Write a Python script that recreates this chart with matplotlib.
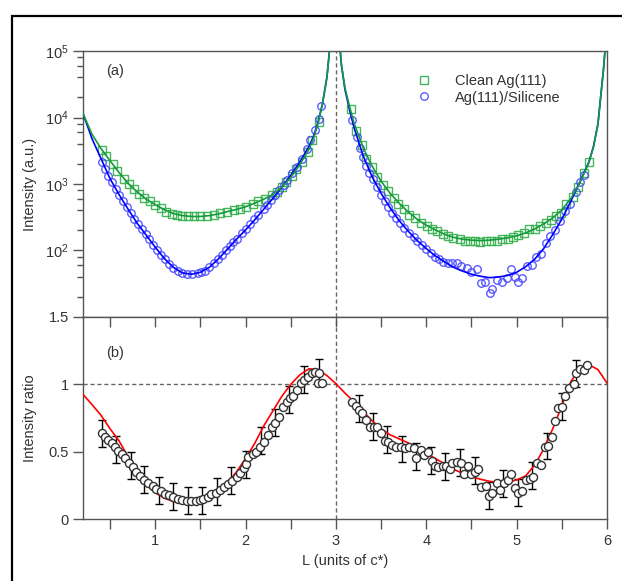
import numpy as np
import matplotlib
matplotlib.use('Agg')
import matplotlib.pyplot as plt
from matplotlib.ticker import LogLocator, NullFormatter, MultipleLocator, FixedLocator
from matplotlib.patches import Rectangle

plt.rcParams['font.family'] = ['Liberation Sans', 'DejaVu Sans']
plt.rcParams['mathtext.fontset'] = 'custom'
plt.rcParams['mathtext.rm'] = 'Liberation Sans'
plt.rcParams['font.size'] = 10.5

# ---- (a) specular CTR intensities ----
# clean Ag(111), squares
clean_L = [0.41, 0.46, 0.53, 0.58, 0.65, 0.71, 0.77, 0.82, 0.88, 0.94, 1.00, 1.06, 1.12, 1.18,
           1.24, 1.30, 1.36, 1.43, 1.50, 1.57, 1.645, 1.72, 1.79, 1.87, 1.94, 2.01, 2.08, 2.14,
           2.22, 2.29, 2.35, 2.40, 2.45, 2.51, 2.56, 2.62, 2.69, 2.74, 2.81,
           3.165, 3.22, 3.29, 3.33, 3.40, 3.45, 3.52, 3.58, 3.64, 3.69, 3.75, 3.81, 3.875, 3.94,
           4.005, 4.06, 4.12, 4.18, 4.245, 4.30, 4.37, 4.43, 4.485, 4.54, 4.595, 4.66, 4.72, 4.78,
           4.84, 4.90, 4.96, 5.02, 5.08, 5.14, 5.20, 5.26, 5.32, 5.38, 5.44, 5.49, 5.55, 5.62,
           5.68, 5.745, 5.80]
clean_I = [3300, 2660, 2000, 1550, 1200, 1000, 850, 710, 620, 550, 490, 430, 380, 355,
           340, 330, 325, 325, 327, 330, 340, 365, 380, 405, 425, 455, 500, 550,
           600, 675, 760, 910, 1070, 1320, 1700, 2140, 3000, 4570, 8500,
           13650, 6310, 3800, 2400, 1780, 1260, 977, 776, 617, 501, 427, 347, 309, 263,
           234, 209, 195, 178, 166, 155, 148, 141, 141, 141, 132, 141, 141, 141,
           148, 148, 158, 170, 186, 209, 214, 234, 263, 288, 331, 363, 501, 631,
           912, 1450, 2140]

# Ag(111)/silicene, circles
sil_L = [0.414, 0.447, 0.48, 0.524, 0.565, 0.60, 0.646, 0.683, 0.727, 0.768, 0.805, 0.85, 0.893,
         0.934, 0.975, 1.019, 1.063, 1.107, 1.15, 1.20, 1.247, 1.30, 1.357, 1.41, 1.47, 1.51,
         1.553, 1.60, 1.645, 1.69, 1.74, 1.785, 1.83, 1.866, 1.91, 1.96, 2.007, 2.05, 2.095,
         2.14, 2.20, 2.236, 2.28, 2.33, 2.375, 2.42, 2.46, 2.51, 2.57, 2.62, 2.68, 2.71, 2.77,
         2.81, 2.84,
         3.18, 3.23, 3.27, 3.30, 3.33, 3.37, 3.41, 3.45, 3.50, 3.54, 3.58, 3.62, 3.67, 3.71,
         3.755, 3.81, 3.86, 3.90, 3.95, 4.00, 4.05, 4.10, 4.145, 4.19, 4.245, 4.29, 4.34, 4.39,
         4.45, 4.50, 4.56, 4.61, 4.65, 4.70, 4.73, 4.78, 4.835, 4.89, 4.94, 4.98, 5.02, 5.06,
         5.11, 5.17, 5.22, 5.27, 5.32, 5.375, 5.42, 5.48, 5.54, 5.59, 5.66, 5.70, 5.745]
sil_I = [2160, 1660, 1320, 1060, 850, 690, 550, 447, 363, 302, 251, 209, 178,
         148, 123, 102, 87, 74, 63, 55, 49, 45.7, 44.4, 44, 45.7, 47.9,
         50, 56, 65, 74, 85, 100, 115, 132, 151, 182, 209, 251, 295,
         339, 417, 479, 575, 676, 813, 955, 1150, 1450, 1820, 2400, 3390, 4570, 6460,
         9550, 14800,
         9330, 5130, 3470, 2510, 1860, 1450, 1175, 891, 692, 550, 447, 372, 309, 257,
         219, 186, 158, 138, 123, 107, 93, 79, 74, 68, 65, 65, 65, 58,
         54, 48, 52, 33, 34, 23, 26, 36, 34, 38, 52, 40, 34, 38,
         58, 60, 81, 89, 129, 166, 204, 282, 398, 501, 759, 1070, 1350]

# fitted curves, below and above the Bragg peak at L = 3
fitA_L = [0.2, 0.3, 0.4, 0.5, 0.6, 0.7, 0.8, 0.9, 1.0, 1.1, 1.2, 1.3, 1.4, 1.5, 1.6, 1.7, 1.8,
          1.9, 2.0, 2.1, 2.2, 2.3, 2.4, 2.5, 2.6, 2.7, 2.75, 2.8, 2.85, 2.9, 2.95]
clean_fitA = [11500, 5600, 3400, 2240, 1480, 1020, 760, 590, 490, 410, 360, 335, 325, 325, 335,
              355, 385, 415, 455, 515, 590, 690, 890, 1260, 1950, 3300, 4800, 7900, 15800,
              40000, 200000]
sil_fitA = [11500, 4800, 2400, 1200, 690, 417, 257, 170, 112, 76, 56, 46, 44, 47, 56, 75, 105,
            148, 204, 288, 417, 603, 891, 1350, 2140, 3630, 5130, 8300, 15800, 40000, 200000]
fitB_L = [3.03, 3.06, 3.1, 3.15, 3.2, 3.3, 3.4, 3.5, 3.6, 3.7, 3.8, 3.9, 4.0, 4.1, 4.2, 4.3,
          4.4, 4.5, 4.6, 4.7, 4.8, 4.9, 5.0, 5.1, 5.2, 5.3, 5.4, 5.5, 5.6, 5.7, 5.8, 5.85, 5.9,
          5.93, 5.96, 5.99]
clean_fitB = [200000, 63000, 28000, 14800, 8300, 3550, 1860, 1100, 725, 513, 380, 295, 240, 204,
              176, 158, 148, 143, 141, 143, 148, 155, 166, 184, 211, 251, 309, 407, 603, 1050,
              2090, 3550, 7940, 20000, 50000, 158000]
sil_fitB = [200000, 63000, 26300, 13200, 7080, 2690, 1290, 724, 437, 282, 195, 141, 107, 83,
            68, 56, 49, 44, 41, 39, 40, 42, 47, 57, 74, 107, 174, 295, 550, 1070, 2140, 3630,
            7940, 20000, 50000, 158000]

# ---- (b) intensity ratio ----
ratio_L = [0.41, 0.44, 0.48, 0.52, 0.55, 0.59, 0.63, 0.66, 0.71, 0.75, 0.79, 0.83, 0.88, 0.92,
           0.97, 1.01, 1.06, 1.11, 1.15, 1.20, 1.25, 1.30, 1.35, 1.40, 1.45, 1.49, 1.53, 1.58,
           1.62, 1.67, 1.72, 1.76, 1.81, 1.85, 1.90, 1.94, 1.985, 2.01, 2.03, 2.08, 2.12, 2.16,
           2.20, 2.25, 2.29, 2.33, 2.37, 2.41, 2.46, 2.49, 2.53, 2.57, 2.61, 2.65, 2.69, 2.73,
           2.77, 2.81, 2.80, 2.85,
           3.175, 3.22, 3.26, 3.29, 3.33, 3.38, 3.42, 3.46, 3.50, 3.545, 3.58, 3.625, 3.67, 3.72,
           3.765, 3.81, 3.86, 3.89, 3.94, 3.98, 4.02, 4.06, 4.10, 4.135, 4.18, 4.22, 4.26, 4.29,
           4.34, 4.38, 4.42, 4.46, 4.50, 4.54, 4.575, 4.61, 4.66, 4.69, 4.73, 4.78, 4.82, 4.86,
           4.91, 4.94, 4.98, 5.02, 5.06, 5.10, 5.15, 5.18, 5.23, 5.27, 5.31, 5.35, 5.39, 5.42,
           5.455, 5.50, 5.54, 5.58, 5.63, 5.66, 5.70, 5.745, 5.78]
ratio = [0.636, 0.606, 0.586, 0.562, 0.537, 0.507, 0.482, 0.45, 0.417, 0.388, 0.35, 0.318, 0.288,
         0.264, 0.244, 0.226, 0.206, 0.189, 0.177, 0.164, 0.152, 0.139, 0.134, 0.134, 0.134,
         0.139, 0.152, 0.164, 0.182, 0.194, 0.214, 0.234, 0.259, 0.283, 0.313, 0.338, 0.376,
         0.41, 0.46, 0.48, 0.50, 0.537, 0.574, 0.624, 0.686, 0.716, 0.756, 0.835, 0.872, 0.897,
         0.914, 0.959, 1.009, 1.034, 1.058, 1.083, 1.088, 1.083, 1.009, 1.013,
         0.872, 0.84, 0.81, 0.79, 0.735, 0.686, 0.686, 0.68, 0.641, 0.58, 0.574, 0.549, 0.537,
         0.537, 0.529, 0.537, 0.525, 0.455, 0.512, 0.475, 0.499, 0.432, 0.395, 0.387, 0.393,
         0.395, 0.368, 0.413, 0.425, 0.413, 0.333, 0.395, 0.331, 0.35, 0.375, 0.234, 0.244,
         0.169, 0.194, 0.264, 0.219, 0.268, 0.288, 0.331, 0.227, 0.194, 0.206, 0.288, 0.294,
         0.313, 0.413, 0.40, 0.537, 0.544, 0.611, 0.73, 0.827, 0.835, 0.914, 0.972, 1.004,
         1.083, 1.113, 1.103, 1.145]

# error bars (every third point)
err_L = [0.41, 0.57, 0.73, 0.88, 1.04, 1.20, 1.36, 1.52, 1.68, 1.84, 2.01, 2.17, 2.33, 2.48,
         2.65, 2.81, 3.25, 3.41, 3.57, 3.73, 3.89, 4.05, 4.21, 4.37, 4.54, 4.69, 4.85, 5.02,
         5.17, 5.34, 5.50, 5.66]
err_R = [0.636, 0.514, 0.397, 0.294, 0.214, 0.164, 0.134, 0.139, 0.201, 0.286, 0.406, 0.583,
         0.716, 0.887, 1.034, 1.089, 0.819, 0.686, 0.589, 0.52, 0.463, 0.432, 0.393, 0.419,
         0.361, 0.174, 0.266, 0.194, 0.323, 0.542, 0.835, 1.083]
err_size = 0.1

ratio_fit_L = [0.2, 0.3, 0.4, 0.5, 0.6, 0.7, 0.8, 0.9, 1.0, 1.1, 1.2, 1.3, 1.4, 1.5, 1.6, 1.7,
               1.8, 1.9, 2.0, 2.1, 2.2, 2.3, 2.4, 2.5, 2.6, 2.7, 2.8, 2.9, 3.0, 3.1, 3.2, 3.3,
               3.4, 3.5, 3.6, 3.7, 3.8, 3.9, 4.0, 4.1, 4.2, 4.3, 4.4, 4.5, 4.6, 4.7, 4.8, 4.9,
               5.0, 5.1, 5.2, 5.3, 5.4, 5.5, 5.6, 5.7, 5.8, 5.9, 6.0]
ratio_fit = [0.925, 0.85, 0.77, 0.67, 0.58, 0.46, 0.34, 0.255, 0.195, 0.155, 0.13, 0.12, 0.122,
             0.14, 0.175, 0.215, 0.27, 0.35, 0.45, 0.56, 0.69, 0.80, 0.91, 1.0, 1.07, 1.115,
             1.11, 1.065, 1.005, 0.935, 0.87, 0.80, 0.73, 0.67, 0.625, 0.595, 0.565, 0.525,
             0.485, 0.45, 0.41, 0.37, 0.34, 0.315, 0.295, 0.28, 0.272, 0.275, 0.29, 0.32, 0.40,
             0.52, 0.67, 0.84, 1.02, 1.12, 1.145, 1.11, 1.01]

gcol_line = '#139a3a'
gcol_mark = '#33b04c'
bcol_line = '#0000ff'
bcol_mark = '#4a4aff'
txt = '#333333'
axcol = '#555555'

fig = plt.figure(figsize=(6.22, 5.81), dpi=100)
ax1 = fig.add_axes([0.1334, 0.4544, 0.8424, 0.4578])
ax2 = fig.add_axes([0.1334, 0.1067, 0.8424, 0.3477], sharex=ax1)

# top panel
ax1.set_yscale('log')
ax1.axvline(3, color='#666666', ls=(0, (3, 2)), lw=1.0, zorder=1)
ax1.plot(clean_L, clean_I, ls='none', marker='s', ms=5.2, mfc='none', mec=gcol_mark, mew=1.0,
         alpha=0.9, label='Clean Ag(111)', zorder=3)
ax1.plot(sil_L, sil_I, ls='none', marker='o', ms=5.4, mfc='none', mec=bcol_mark, mew=1.0,
         alpha=0.9, label='Ag(111)/Silicene', zorder=3)
ax1.plot(fitA_L, sil_fitA, color=bcol_line, lw=1.2, zorder=4)
ax1.plot(fitB_L, sil_fitB, color=bcol_line, lw=1.2, zorder=4)
ax1.plot(fitA_L, clean_fitA, color=gcol_line, lw=1.2, zorder=4)
ax1.plot(fitB_L, clean_fitB, color=gcol_line, lw=1.2, zorder=4)
ax1.set_ylim(10, 1e5)
ax1.yaxis.set_major_locator(FixedLocator([1e2, 1e3, 1e4, 1e5]))
ax1.yaxis.set_minor_locator(LogLocator(base=10, subs=(2, 4, 6, 8)))
ax1.yaxis.set_minor_formatter(NullFormatter())
ax1.set_ylabel('Intensity (a.u.)', color=txt)
ax1.yaxis.set_label_coords(-0.088, 0.5)
ax1.tick_params(axis='x', which='both', bottom=False, labelbottom=False)
ax1.tick_params(axis='y', which='major', length=7, width=1, color=axcol, labelcolor=txt, pad=3)
ax1.tick_params(axis='y', which='minor', length=4, width=1, color=axcol)
ax1.text(0.045, 0.925, '(a)', transform=ax1.transAxes, color=txt, va='center', ha='left')
leg = ax1.legend(loc='upper left', bbox_to_anchor=(0.637, 0.915), frameon=False, borderpad=0,
                 borderaxespad=0, numpoints=1, handlelength=1.0, handletextpad=1.6,
                 labelspacing=0.2)
for t in leg.get_texts():
    t.set_color(txt)

# bottom panel
ax2.axvline(3, color='#666666', ls=(0, (3, 2)), lw=1.0, zorder=1)
ax2.axhline(1, color='#666666', ls=(0, (3, 2)), lw=1.0, zorder=1)
ax2.errorbar(err_L, err_R, yerr=err_size, fmt='none', ecolor='black', elinewidth=1.0,
             capsize=3, capthick=1.0, zorder=2)
ax2.plot(ratio_fit_L, ratio_fit, color='#ff0000', lw=1.2, zorder=3)
ax2.plot(ratio_L, ratio, ls='none', marker='o', ms=5.8, mfc='white', mec='#333333', mew=1.0,
         zorder=4)
ax2.set_xlim(0.2, 6)
ax2.set_ylim(0, 1.5)
ax2.xaxis.set_major_locator(MultipleLocator(1))
ax2.xaxis.set_minor_locator(MultipleLocator(0.5))
ax2.yaxis.set_major_locator(FixedLocator([0, 0.5, 1, 1.5]))
ax2.set_yticklabels(['0', '0.5', '1', '1.5'])
ax2.set_ylabel('Intensity ratio', color=txt)
ax2.yaxis.set_label_coords(-0.088, 0.5)
ax2.set_xlabel('L (units of c*)', color=txt, labelpad=4)
ax2.tick_params(axis='x', which='both', bottom=True, top=True, direction='out', length=7,
                width=1, color=axcol, labelcolor=txt, pad=4)
ax2.tick_params(axis='x', which='both', top=True, labeltop=False)
ax2.tick_params(axis='y', which='major', length=7, width=1, color=axcol, labelcolor=txt, pad=3)
ax2.text(0.045, 0.82, '(b)', transform=ax2.transAxes, color=txt, va='center', ha='left')

for ax in (ax1, ax2):
    for s in ax.spines.values():
        s.set_color(axcol)
        s.set_linewidth(1.0)

# top ticks of the lower panel point inwards (down)
for tk in ax2.xaxis.get_major_ticks() + ax2.xaxis.get_minor_ticks():
    tk.tick2line.set_marker(3)

fig.patches.append(Rectangle((11.5 / 622, -0.1), 1.2, 1.1 - 15.5 / 581, transform=fig.transFigure,
                             fill=False, edgecolor='black', linewidth=1.6))

fig.savefig('out.png', dpi=100)
